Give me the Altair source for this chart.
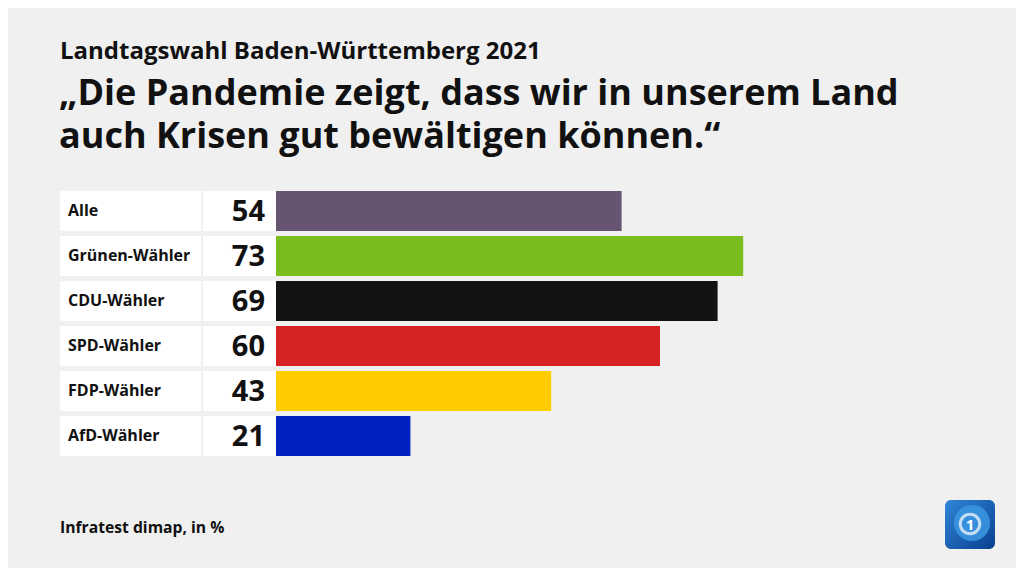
import altair as alt
import pandas as pd

categories = ["Alle", "Grünen-Wähler", "CDU-Wähler", "SPD-Wähler", "FDP-Wähler", "AfD-Wähler"]
values = [54, 73, 69, 60, 43, 21]
colors = ["#665470", "#78bc1e", "#131313", "#d62222", "#ffcc00", "#0020c0"]

supertitle = "Landtagswahl Baden-Württemberg 2021"
title_lines = ["„Die Pandemie zeigt, dass wir in unserem Land", "auch Krisen gut bewältigen können.“"]
source = "Infratest dimap, in %"

FONT = "Open Sans"

df = pd.DataFrame({"group": categories, "value": values, "color": colors})
one = pd.DataFrame({"k": [0]})

y_enc = alt.Y("group:N", sort=categories, axis=None,
              scale=alt.Scale(paddingInner=5 / 45, paddingOuter=0))
color_enc = alt.Color("group:N", sort=categories,
                      scale=alt.Scale(domain=categories, range=colors), legend=None)

base = alt.Chart(df)

label_box = base.mark_bar(color="white").encode(
    y=y_enc, x=alt.value(-216), x2=alt.value(-75))
value_box = base.mark_bar(color="white").encode(
    y=y_enc, x=alt.value(-73), x2=alt.value(0))
bars = base.mark_bar().encode(
    y=y_enc,
    x=alt.X("value:Q", scale=alt.Scale(domain=[0, 100]), axis=None),
    color=color_enc)
labels = base.mark_text(align="left", baseline="middle", font=FONT,
                        fontWeight="bold", fontSize=16, color="#111").encode(
    y=y_enc, x=alt.value(-208), text="group:N")
nums = base.mark_text(align="right", baseline="middle", font=FONT,
                      fontWeight="bold", fontSize=29, color="#111", dy=1).encode(
    y=y_enc, x=alt.value(-11), text="value:Q")

tdf = pd.DataFrame({"t": [supertitle]})
t0 = alt.Chart(tdf).mark_text(align="left", baseline="alphabetic", font=FONT,
                              fontWeight="bold", fontSize=24, color="#111").encode(
    x=alt.value(-216), y=alt.value(-132), text="t:N")
t12 = alt.Chart(pd.DataFrame({"t": ["\n".join(title_lines)]})).mark_text(
    align="left", baseline="alphabetic", font=FONT, fontWeight="bold",
    fontSize=36, lineHeight=43, lineBreak="\n", color="#111").encode(
    x=alt.value(-217), y=alt.value(-86), text="t:N")
src = alt.Chart(pd.DataFrame({"t": [source]})).mark_text(
    align="left", baseline="alphabetic", font=FONT, fontWeight="bold",
    fontSize=15.7, color="#111").encode(x=alt.value(-216), y=alt.value(342), text="t:N")

logo_bg = alt.Chart(one).mark_rect(
    cornerRadius=6,
    color=alt.Gradient(gradient="linear", x1=0, y1=0, x2=1, y2=1,
                       stops=[alt.GradientStop(color="#2f86d8", offset=0),
                              alt.GradientStop(color="#0a3f8f", offset=1)])).encode(
    x=alt.value(669), x2=alt.value(719), y=alt.value(309), y2=alt.value(358))
logo_globe = alt.Chart(one).mark_point(
    filled=True, color="#3a95e0", size=1300, opacity=0.9).encode(
    x=alt.value(696), y=alt.value(332))
logo_ring = alt.Chart(one).mark_point(
    filled=False, color="white", size=380, strokeWidth=3).encode(
    x=alt.value(694), y=alt.value(333))
logo_one = alt.Chart(pd.DataFrame({"t": ["1"]})).mark_text(
    font=FONT, fontWeight="bold", fontSize=15, color="white",
    baseline="middle", align="center").encode(
    x=alt.value(694), y=alt.value(334), text="t:N")

chart = alt.layer(
    label_box, value_box, bars, labels, nums, t0, t12, src,
    logo_bg, logo_globe, logo_ring, logo_one
).properties(
    width=640, height=265,
    autosize=alt.AutoSizeParams(type="none"),
    padding={"left": 268, "top": 183, "right": 100, "bottom": 112},
    background="#f0f0f0",
).configure_view(stroke=None)

chart.save("out.html", embed_options={"renderer": "svg", "actions": False})
